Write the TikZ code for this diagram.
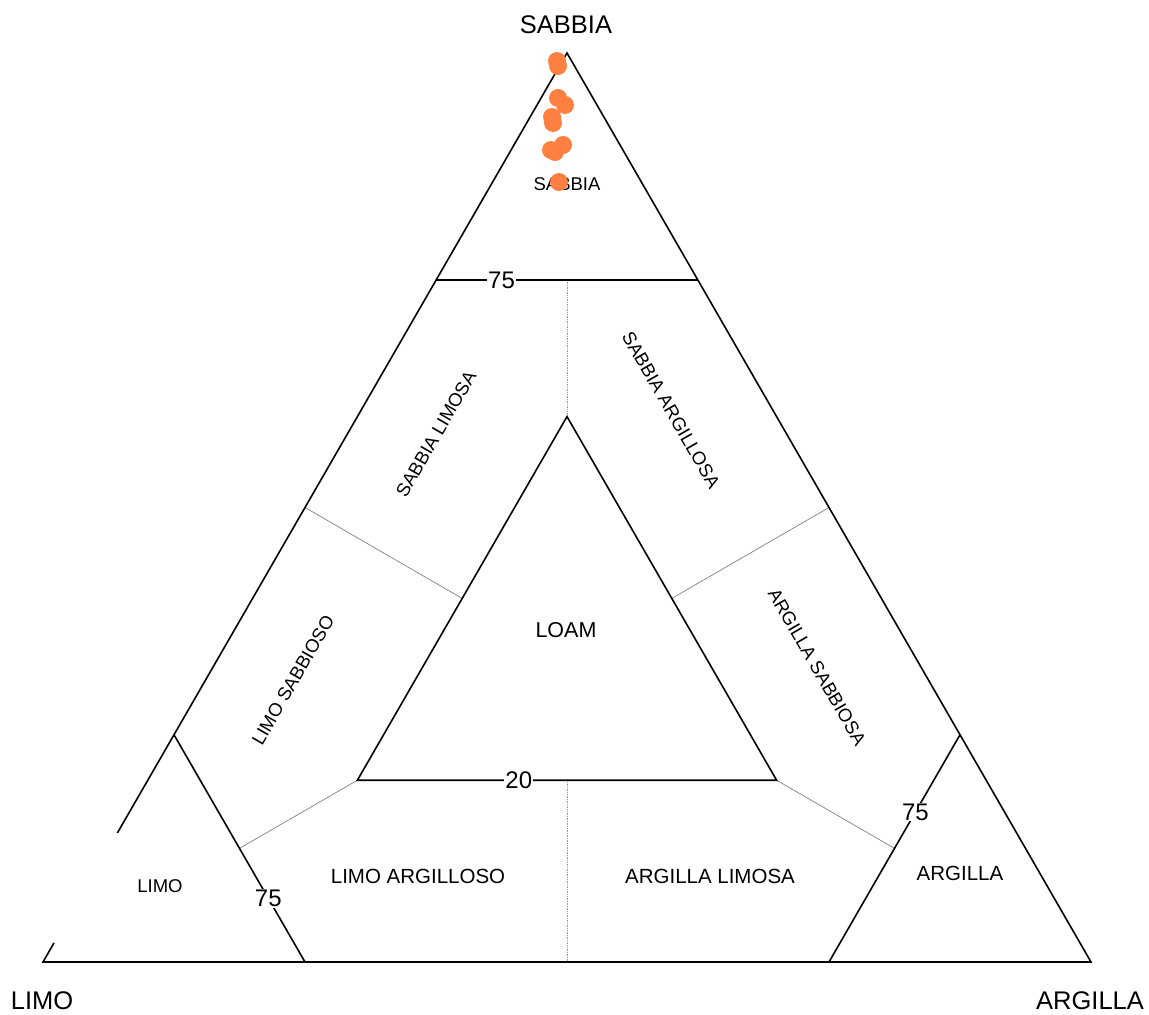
\documentclass[tikz,border=0pt]{standalone}
\usepackage{fontspec}
\setmainfont{Liberation Sans}
\usetikzlibrary{calc}
\definecolor{dotorange}{RGB}{255,128,64}
\begin{document}
\begin{tikzpicture}[x=1pt,y=-1pt,
  main/.style={line width=1.6pt, line join=miter},
  grayline/.style={line width=0.7pt, gray},
  vgrayline/.style={line width=0.7pt, gray!80, densely dotted},
  title/.style={font=\fontsize{25.5}{29}\selectfont, inner sep=0pt},
  region/.style={font=\fontsize{18.5}{22}\selectfont, inner sep=0pt},
  hregion/.style={font=\fontsize{20.5}{24}\selectfont, inner sep=0pt},
  num/.style={font=\fontsize{24}{27}\selectfont, fill=white, inner sep=1pt},
  dot/.style={fill=dotorange, draw=none}]
\useasboundingbox (0,0) rectangle (1149,1015);
% corners
\coordinate (A) at (567,53);
\coordinate (L) at (43,962);
\coordinate (R) at (1091,962);
% 75% lines
\coordinate (s75l) at ($0.75*(A)+0.25*(L)$);
\coordinate (s75r) at ($0.75*(A)+0.25*(R)$);
\coordinate (m75a) at ($0.75*(L)+0.25*(A)$);
\coordinate (m75r) at ($0.75*(L)+0.25*(R)$);
\coordinate (c75a) at ($0.75*(R)+0.25*(A)$);
\coordinate (c75l) at ($0.75*(R)+0.25*(L)$);
% inner triangle
\coordinate (iT) at ($0.6*(A)+0.2*(L)+0.2*(R)$);
\coordinate (iL) at ($0.2*(A)+0.6*(L)+0.2*(R)$);
\coordinate (iR) at ($0.2*(A)+0.2*(L)+0.6*(R)$);
\coordinate (iTL) at ($(iT)!0.5!(iL)$);
\coordinate (iTR) at ($(iT)!0.5!(iR)$);
\coordinate (iLR) at ($(iL)!0.5!(iR)$);
% boundary targets
\coordinate (pT) at ($0.75*(A)+0.125*(L)+0.125*(R)$);
\coordinate (pL) at ($0.125*(A)+0.75*(L)+0.125*(R)$);
\coordinate (pR) at ($0.125*(A)+0.125*(L)+0.75*(R)$);
\coordinate (mAL) at ($(A)!0.5!(L)$);
\coordinate (mAR) at ($(A)!0.5!(R)$);
\coordinate (mLR) at ($(L)!0.5!(R)$);
% gap on left edge
\coordinate (g1) at ($(L)!0.021!(A)$);
\coordinate (g2) at ($(L)!0.142!(A)$);

% gray dividers
\draw[vgrayline] (iT) -- (pT);
\draw[vgrayline] (iLR) -- (mLR);
\draw[grayline] (iTL) -- (mAL);
\draw[grayline] (iTR) -- (mAR);
\draw[grayline] (iL) -- (pL);
\draw[grayline] (iR) -- (pR);

% main lines
\draw[main] (g2) -- (A) -- (R) -- (L) -- (g1);
\draw[main] (s75l) -- (s75r);
\draw[main] (m75a) -- (m75r);
\draw[main] (c75a) -- (c75l);
\draw[main] (iT) -- (iL) -- (iR) -- cycle;

% numeric labels
\node[num] (n75s) at ($(s75l)!0.25!(s75r)$) {75};
\node[num] (n20) at ($(iL)!0.385!(iR)$) {20};
\node[num] (n75m) at ($(m75a)!0.72!(m75r)$) {75};
\node[num] (n75c) at ($(c75a)!0.34!(c75l)$) {75};

% titles
\node[title] (tS) at (566,25) {SABBIA};
\node[title] (tL) at (42,1001) {LIMO};
\node[title] (tR) at (1090,1001) {ARGILLA};

% region labels
\node[region] (rS) at (567,184) {SABBIA};
\node[region, rotate=60] (rSL) at (436,434) {SABBIA LIMOSA};
\node[region, rotate=-60] (rSA) at (671,410) {SABBIA ARGILLOSA};
\node[region, rotate=60] (rLS) at (293,680) {LIMO SABBIOSO};
\node[hregion, font=\fontsize{21.5}{25}\selectfont] (rLoam) at (566,630) {LOAM};
\node[region, rotate=-60] (rAS) at (817,667) {ARGILLA SABBIOSA};
\node[region] (rL) at (160,886) {LIMO};
\node[hregion] (rLA) at (418,876) {LIMO ARGILLOSO};
\node[hregion] (rAL) at (710,876) {ARGILLA LIMOSA};
\node[hregion] (rA) at (960,873) {ARGILLA};

% data points
\foreach \x/\y in {557/61, 558/66, 558/98, 565/105, 552/117, 553/123, 563/145, 551/150, 555/152, 559/182}
  \fill[dot] (\x,\y) circle (9);
\end{tikzpicture}
\end{document}
